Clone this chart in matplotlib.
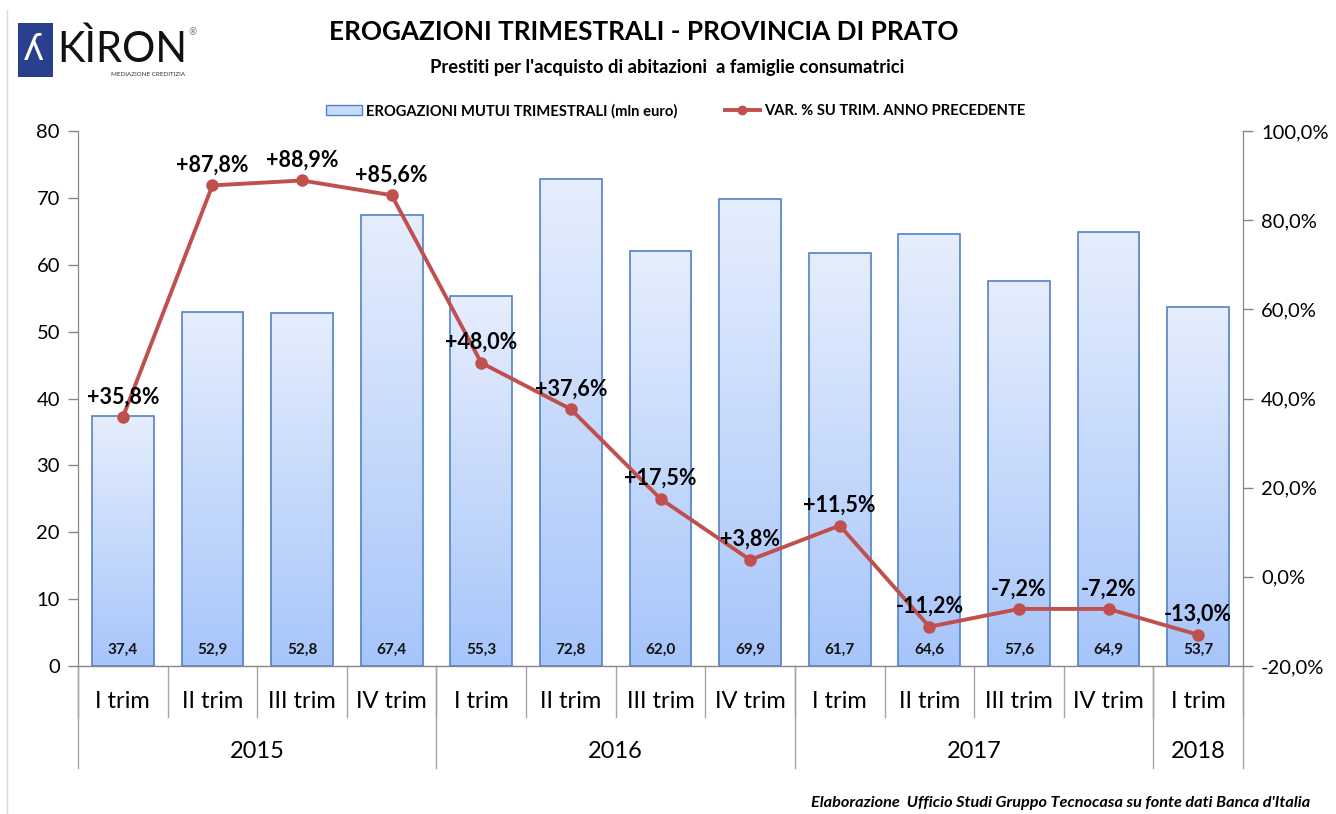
"""
    Erogazioni trimestrali - Provincia di Prato
"""

import numpy as np
from matplotlib import pyplot as plt
from matplotlib.patches import Rectangle
from matplotlib.lines import Line2D
from matplotlib.ticker import FuncFormatter
from matplotlib.colors import LinearSegmentedColormap

## DATA

quarters = ['I trim', 'II trim', 'III trim', 'IV trim',
            'I trim', 'II trim', 'III trim', 'IV trim',
            'I trim', 'II trim', 'III trim', 'IV trim',
            'I trim']
years = ['2015', '2016', '2017', '2018']
year_quarters = [4, 4, 4, 1]
erogazioni = [37.4, 52.9, 52.8, 67.4, 55.3, 72.8, 62.0, 69.9, 61.7, 64.6, 57.6, 64.9, 53.7]
variazione = [35.8, 87.8, 88.9, 85.6, 48.0, 37.6, 17.5, 3.8, 11.5, -11.2, -7.2, -7.2, -13.0]

plt.rcParams['font.family'] = ['Lato', 'DejaVu Sans']

W, H = 1336, 814
fig = plt.figure(figsize=(W / 100, H / 100), dpi=100)
ax = fig.add_axes([78 / W, 1 - 666 / H, (1243 - 78) / W, (666 - 131) / H])
ax2 = ax.twinx()
ax.set_zorder(ax2.get_zorder() - 1)
ax2.patch.set_visible(False)

grey = '#868686'
red = '#c0504d'
x = np.arange(len(erogazioni))

# bars with vertical gradient
bars = ax.bar(x, erogazioni, width=0.69, facecolor='none', edgecolor='#5183c8',
              linewidth=1.2, zorder=3)
grad = np.linspace(0, 1, 256).reshape(-1, 1)
cmap = LinearSegmentedColormap.from_list('bar', ['#a7c5fa', '#e6eefd'])
for b in bars:
    x0, y0 = b.get_x(), b.get_y()
    im = ax.imshow(grad, extent=[x0, x0 + b.get_width(), y0, y0 + b.get_height()],
                   origin='lower', cmap=cmap, aspect='auto', zorder=2)
    im.set_clip_path(b)
for xi, v in zip(x, erogazioni):
    ax.annotate(f'{v:.1f}'.replace('.', ','), (xi, 0), xytext=(0, 12),
                textcoords='offset points', ha='center', va='center',
                fontsize=11, fontweight='bold', color='#111111', zorder=5)

ax.set_xlim(-0.5, len(x) - 0.5)
ax.set_ylim(0, 80)
ax.set_yticks(range(0, 81, 10))
ax.set_xticks([])

# line on right axis
ax2.plot(x, variazione, color=red, linewidth=2.8, marker='o', markersize=8, zorder=6)
for xi, v in zip(x, variazione):
    s = ('+' if v >= 0 else '') + f'{v:.1f}'.replace('.', ',') + '%'
    ax2.annotate(s, (xi, v), xytext=(0, 7), textcoords='offset points',
                 ha='center', va='bottom', fontsize=15.5, fontweight='bold',
                 color='black', zorder=7)
ax2.set_ylim(-20, 100)
ax2.set_yticks(range(-20, 101, 20))
ax2.yaxis.set_major_formatter(FuncFormatter(lambda v, p: f'{v:.1f}'.replace('.', ',') + '%'))

for a in (ax, ax2):
    a.spines['top'].set_visible(False)
    for s in ('left', 'right', 'bottom'):
        a.spines[s].set_color(grey)
    a.tick_params(axis='y', colors=grey, labelcolor='black', labelsize=14.5,
                  length=7, width=1, pad=6)
ax.spines['bottom'].set_visible(False)
ax2.spines['bottom'].set_visible(False)
ax.axhline(0, color=grey, linewidth=1, zorder=4, clip_on=False)

# category axis
axh = 666 - 131
tr = ax.get_xaxis_transform()
for xi, q in zip(x, quarters):
    ax.text(xi, -35 / axh, q, transform=tr, ha='center', va='center', fontsize=17)
for k in range(len(x) + 1):
    ax.plot([k - 0.5, k - 0.5], [0, -51 / axh], transform=tr, color='#a6a6a6',
            linewidth=1, clip_on=False)
start = 0
bounds = [0]
for yr, n in zip(years, year_quarters):
    ax.text(start + (n - 1) / 2, -86 / axh, yr, transform=tr, ha='center',
            va='center', fontsize=17)
    start += n
    bounds.append(start)
for bd in bounds:
    ax.plot([bd - 0.5, bd - 0.5], [0, -102 / axh], transform=tr, color='#a6a6a6',
            linewidth=1, clip_on=False)

# legend
handles = [Rectangle((0, 0), 1, 1, facecolor='#c9dbfb', edgecolor='#5183c8'),
           Line2D([], [], color=red, linewidth=2.8, marker='o', markersize=6)]
labels = ['EROGAZIONI MUTUI TRIMESTRALI (mln euro)', 'VAR. % SU TRIM. ANNO PRECEDENTE']
fig.legend(handles, labels, loc='center', bbox_to_anchor=(676 / W, 1 - 111 / H),
           ncol=2, frameon=False, columnspacing=3.2,
           handlelength=2.4, handletextpad=0.3, prop={'weight': 'bold', 'size': 10.6})

# titles
fig.text(644 / W, 1 - 32 / H, 'EROGAZIONI TRIMESTRALI - PROVINCIA DI PRATO',
         ha='center', va='center', fontsize=18.8, fontweight='bold')
fig.text(667 / W, 1 - 68 / H, "Prestiti per l'acquisto di abitazioni  a famiglie consumatrici",
         ha='center', va='center', fontsize=13.2, fontweight='bold')
fig.text(1310 / W, 1 - 803 / H,
         "Elaborazione  Ufficio Studi Gruppo Tecnocasa su fonte dati Banca d'Italia",
         ha='right', va='center', fontsize=11.7, fontweight='bold', style='italic')

# logo
fig.patches.append(Rectangle((18 / W, 1 - 77 / H), 35 / W, 54 / H,
                             transform=fig.transFigure, facecolor='#2b3f8f',
                             edgecolor='none'))
fig.text(34 / W, 1 - 50 / H, 'ʎ', ha='center', va='center', fontsize=26,
         color='white', family='DejaVu Sans')
fig.text(57 / W, 1 - 49 / H, 'KÌRON', ha='left', va='center', fontsize=30,
         color='#111111')
fig.text(193 / W, 1 - 33 / H, '®', ha='center', va='center', fontsize=7, color='#777777')
fig.text(148 / W, 1 - 74 / H, 'MEDIAZIONE CREDITIZIA', ha='center', va='center',
         fontsize=4.5, color='#333333')

# left border
fig.add_artist(Line2D([7 / W, 7 / W], [0, 1 - 10 / H], transform=fig.transFigure,
                      color='#d9d9d9', linewidth=1))

fig.savefig('out.png', dpi=100)
